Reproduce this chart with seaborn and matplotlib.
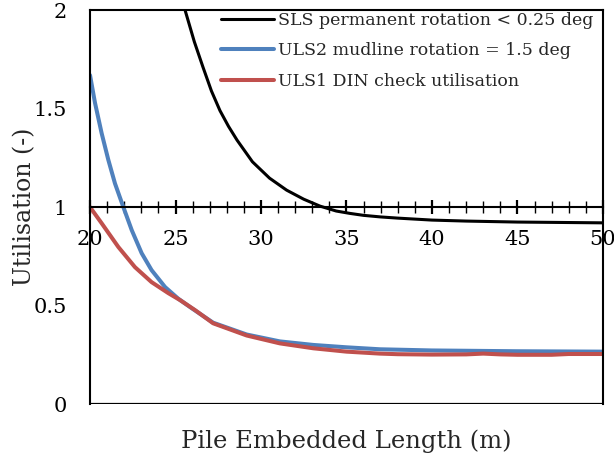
import numpy as np
import pandas as pd
import matplotlib
matplotlib.use("Agg")
import matplotlib.pyplot as plt
import seaborn as sns
from matplotlib.ticker import MultipleLocator

# ---- data ----
sls_x = [25.3, 25.56, 26.1, 26.61, 27.1, 27.6, 28.1, 28.6, 29.5, 30.5, 31.5, 32.5, 33.45, 34.4,
         35.2, 36, 37, 38, 39, 40, 42, 45, 50]
sls_y = [2.09, 2.0, 1.84, 1.71, 1.59, 1.49, 1.41, 1.34, 1.23, 1.147, 1.086, 1.04, 1.005, 0.98,
         0.968, 0.958, 0.95, 0.944, 0.939, 0.934, 0.929, 0.924, 0.92]

uls2_x = [20, 20.29, 20.68, 21.07, 21.46, 21.95, 22.44, 23.02, 23.6, 24.39, 25.16, 25.94, 27.2,
          29.16, 31.1, 33.06, 35.0, 36.95, 40, 45, 50]
uls2_y = [1.67, 1.53, 1.375, 1.24, 1.12, 1.0, 0.883, 0.766, 0.68, 0.594, 0.535, 0.487, 0.413,
          0.353, 0.318, 0.30, 0.288, 0.278, 0.272, 0.268, 0.266]

uls1_x = [20, 20.68, 21.66, 22.63, 23.6, 24.58, 25.26, 26.14, 27.2, 29.16, 31.1, 33.06, 35.0,
          36.95, 38, 40, 42, 43, 44, 45, 47, 48, 50]
uls1_y = [1.0, 0.918, 0.797, 0.695, 0.619, 0.563, 0.528, 0.477, 0.41, 0.348, 0.308, 0.283,
          0.266, 0.256, 0.253, 0.251, 0.252, 0.256, 0.252, 0.25, 0.25, 0.254, 0.254]

labels = ["SLS permanent rotation < 0.25 deg",
          "ULS2 mudline rotation = 1.5 deg",
          "ULS1 DIN check utilisation"]
colors = ["#000000", "#4F81BD", "#C0504D"]

x_ticks = [20, 25, 30, 35, 40, 45, 50]
y_ticks = [0, 0.5, 1, 1.5, 2]
y_ticklabels = ["0", "0.5", "1", "1.5", "2"]

# ---- plot ----
sns.set_style("white")
plt.rcParams["font.family"] = ["DejaVu Serif"]

fig = plt.figure(figsize=(6.14, 4.62), dpi=100)
ax = fig.add_axes([0.1466, 0.1255, 0.982 - 0.1466, 0.978 - 0.1255])

series = [(sls_x, sls_y, 2.2), (uls2_x, uls2_y, 2.9), (uls1_x, uls1_y, 2.9)]
for (xs, ys, lw), lab, c in zip(series, labels, colors):
    df = pd.DataFrame({"x": xs, "y": ys})
    sns.lineplot(data=df, x="x", y="y", ax=ax, color=c, linewidth=lw, label=lab,
                 estimator=None, sort=False)

ax.set_xlim(20, 50)
ax.set_ylim(0, 2)

for s in ["top", "right", "left", "bottom"]:
    ax.spines[s].set_visible(True)
    ax.spines[s].set_color("black")
    ax.spines[s].set_linewidth(1.5)
ax.spines["bottom"].set_position(("data", 1))
ax.axhline(0, color="black", linewidth=1.6, zorder=5)

ax.set_xticks(x_ticks)
ax.set_xticklabels([str(t) for t in x_ticks])
ax.xaxis.set_minor_locator(MultipleLocator(1))
ax.tick_params(axis="x", which="both", bottom=True, top=False)
ax.tick_params(axis="x", which="major", direction="inout", length=10, width=1.6,
               labelsize=15, pad=11.5, colors="black")
ax.tick_params(axis="x", which="minor", direction="inout", length=8, width=1.0, colors="black")
ax.set_yticks(y_ticks)
ax.set_yticklabels(y_ticklabels)
ax.tick_params(axis="y", left=False, length=0, labelsize=15, pad=16.5, colors="black")

ax.set_xlabel("Pile Embedded Length (m)", fontsize=17.5)
ax.set_ylabel("Utilisation (-)", fontsize=17)
ax.xaxis.set_label_coords(0.5, -0.0635)
ax.yaxis.set_label_coords(-0.105, 0.5)

leg = ax.legend(loc="upper right", bbox_to_anchor=(593 / 614, 1 - 12 / 462),
                bbox_transform=fig.transFigure, frameon=False, fontsize=12.5,
                handlelength=3.05, handletextpad=0.23, borderaxespad=0, borderpad=0,
                labelspacing=0.77)

fig.savefig("out.png", dpi=100)
